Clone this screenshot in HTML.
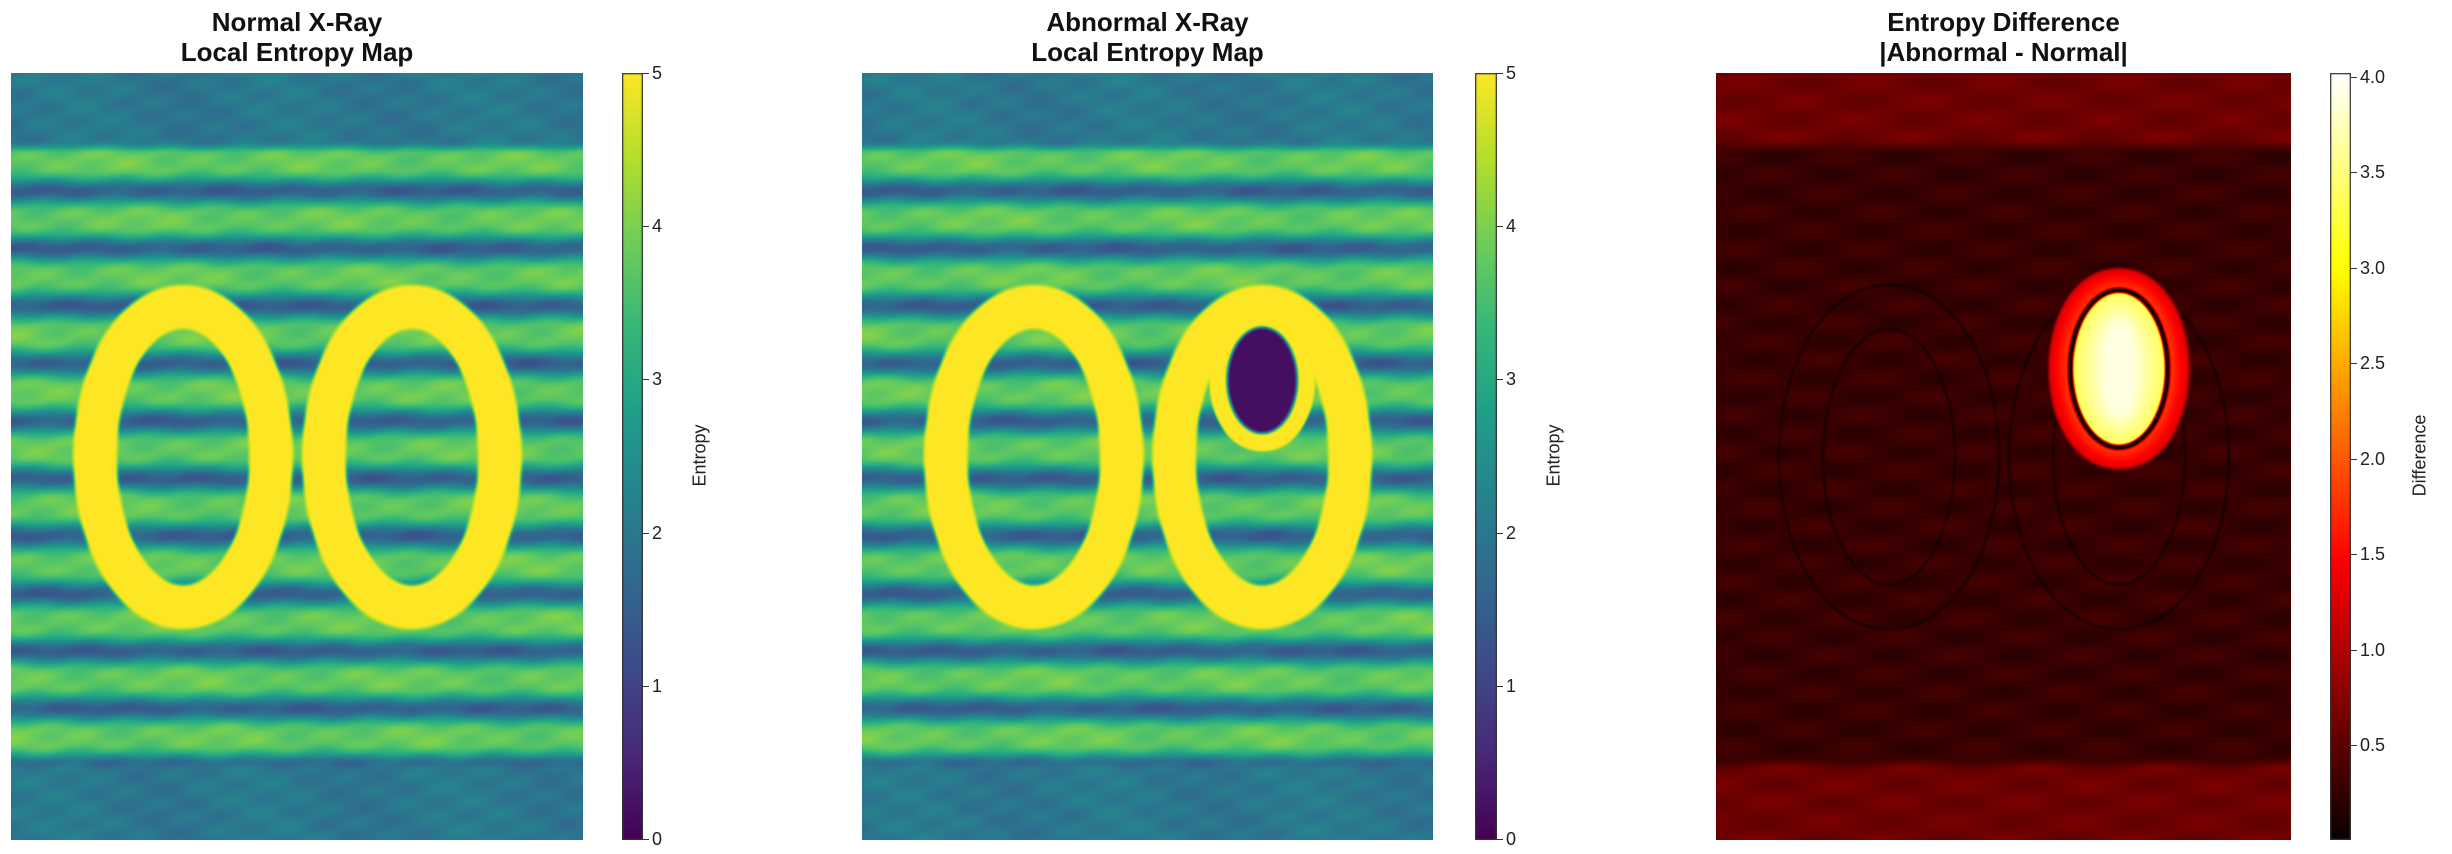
<!DOCTYPE html>
<html><head><meta charset="utf-8"><style>
body{margin:0;background:#fff;width:2452px;height:854px;overflow:hidden;position:relative;font-family:"Liberation Sans","DejaVu Sans",sans-serif;}
.title{position:absolute;text-align:center;font-weight:bold;font-size:26px;line-height:30px;color:#111;}
canvas{position:absolute;}
.tick{position:absolute;height:1px;width:6px;background:#333;}
.tl{position:absolute;font-size:18px;color:#222;line-height:18px;}
.cbl{position:absolute;font-size:18px;color:#222;transform:rotate(-90deg);transform-origin:center;white-space:nowrap;}
</style></head><body>
<div class="title" style="left:11px;top:7px;width:572px">Normal X-Ray<br>Local Entropy Map</div>
<div class="title" style="left:862px;top:7px;width:571px">Abnormal X-Ray<br>Local Entropy Map</div>
<div class="title" style="left:1716px;top:7px;width:575px">Entropy Difference<br>|Abnormal - Normal|</div>
<canvas id="p1" width="572" height="767" style="left:11px;top:73px"></canvas>
<canvas id="p2" width="571" height="767" style="left:862px;top:73px"></canvas>
<canvas id="p3" width="575" height="767" style="left:1716px;top:73px"></canvas>
<canvas id="c1" width="21" height="767" style="left:622px;top:73px"></canvas>
<canvas id="c2" width="22" height="767" style="left:1475px;top:73px"></canvas>
<canvas id="c3" width="21" height="767" style="left:2330px;top:73px"></canvas>
<div class="cbl" style="left:700px;top:445px">Entropy</div>
<div class="cbl" style="left:1554px;top:445px">Entropy</div>
<div class="cbl" style="left:2420px;top:445px">Difference</div>
<script>
const stripeBounds=[0.094,0.90];
const stripeWave=[0.1155,0.075];
const levels=[2.0,3.8,1.5];
const ellipses=[[0.30,0.50,88,150],[0.70,0.50,88,150]];
const ringHalf=22;
const lesion=[0.70,0.40,35,53];
const diffLevels=[0.28,0.6];
const diffBlob=[0.70,0.385,48,78];
const entropyTicks=[0,1,2,3,4,5];
const entropyRange=[0,5];
const diffTicks=[0.5,1.0,1.5,2.0,2.5,3.0,3.5,4.0];
const diffRange=[0.01,4.02];

const VIR=[[68,1,84],[72,40,120],[62,74,137],[49,104,142],[38,130,142],[31,158,137],[53,183,121],[109,205,89],[180,222,44],[253,231,37]];
function viridis(t){t=Math.max(0,Math.min(1,t));const p=t*(VIR.length-1),i=Math.min(VIR.length-2,Math.floor(p)),f=p-i;return VIR[i].map((c,k)=>c+(VIR[i+1][k]-c)*f);}
function hot(t){t=Math.max(0,Math.min(1,t));return[(0.04+0.96*Math.min(1,t/0.365))*255,Math.max(0,Math.min(1,(t-0.365)/0.381))*255,Math.max(0,Math.min(1,(t-0.746)/0.254))*255];}
function ss(e0,e1,x){let t=Math.max(0,Math.min(1,(x-e0)/(e1-e0)));return t*t*(3-2*t);}
function edist(x,y,cx,cy,a,b){const dx=x-cx,dy=y-cy,X=dx/a,Y=dy/b,r=Math.sqrt(X*X+Y*Y)+1e-6;return (r-1)*r/(Math.sqrt((X/a)*(X/a)+(Y/b)*(Y/b))+1e-9);}
function stripeMask(ny){return ss(stripeBounds[0]-0.01,stripeBounds[0]+0.01,ny)*(1-ss(stripeBounds[1]-0.01,stripeBounds[1]+0.01,ny));}
function baseVal(x,y,w,h){const ny=y/h,s=stripeMask(ny);
 const tex=0.18*Math.sin(x*0.09+y*0.04)*Math.sin(y*0.21+x*0.013)+0.1*Math.sin(x*0.031-y*0.017);
 const c=Math.cos(2*Math.PI*(ny-stripeWave[0])/stripeWave[1]);const q=(1-c)/2;
 const sv=levels[1]-(levels[1]-levels[2])*q*q;
 return levels[0]+tex+s*(sv-levels[0]);}
function ringT(x,y,w,h){let t=0;for(const e of ellipses){const d=edist(x,y,e[0]*w,e[1]*h,e[2],e[3]);t=Math.max(t,1-ss(ringHalf-3,ringHalf+3,Math.abs(d)));}return t;}
function normalV(x,y,w,h){const v=baseVal(x,y,w,h),t=ringT(x,y,w,h);return v+(5-v)*t;}
function abnormalV(x,y,w,h){let v=normalV(x,y,w,h);const d=edist(x,y,lesion[0]*w,lesion[1]*h,lesion[2],lesion[3]);
 const ring=1-ss(16,20,d);v=v+(5-v)*ring;const hole=1-ss(-3,3,d);return v+(0.2-v)*hole;}
function diffV(x,y,w,h){const ny=y/h,s=stripeMask(ny);
 let v=diffLevels[1]-(diffLevels[1]-diffLevels[0])*s+0.08*Math.sin(x*0.05+y*0.02)*Math.sin(y*0.17);
 for(const e of ellipses){const d=edist(x,y,e[0]*w,e[1]*h,e[2],e[3]);const q=(Math.abs(d)-ringHalf)/1.5;v*=1-0.6*Math.exp(-(q*q));}
 const db=edist(x,y,diffBlob[0]*w,diffBlob[1]*h,diffBlob[2],diffBlob[3]);
 if(db<26){const halo=1.9-0.03*db;v=Math.max(v,halo*ss(0,5,db)*(1-ss(20,26,db)));}
 const inner=3.9-0.5*ss(-40,0,db);
 v=v+(inner-v)*(1-ss(-4,0,db));const q2=(db-1)/1.8;v*=1-0.9*Math.exp(-(q2*q2));
 return v;}
function paint(id,fn,cmap,rng){const c=document.getElementById(id),g=c.getContext('2d'),w=c.width,h=c.height,im=g.createImageData(w,h);
 for(let y=0;y<h;y++)for(let x=0;x<w;x++){const col=cmap((fn(x,y,w,h)-rng[0])/(rng[1]-rng[0]));const i=(y*w+x)*4;im.data[i]=col[0];im.data[i+1]=col[1];im.data[i+2]=col[2];im.data[i+3]=255;}
 g.putImageData(im,0,0);}
paint('p1',normalV,viridis,entropyRange);
paint('p2',abnormalV,viridis,entropyRange);
paint('p3',diffV,hot,diffRange);
function colorbar(id,cmap,rng,ticks,nameBase,dec){const c=document.getElementById(id),g=c.getContext('2d'),w=c.width,h=c.height;
 for(let y=0;y<h;y++){const col=cmap(1-y/(h-1));g.fillStyle='rgb('+col.map(v=>Math.round(v)).join(',')+')';g.fillRect(0,y,w,1);}
 g.strokeStyle='#333';g.lineWidth=1.5;g.strokeRect(0.5,0.5,w-1,h-1);
 const L=parseFloat(c.style.left),T=parseFloat(c.style.top);
 ticks.forEach(t=>{const y=T+(rng[1]-t)/(rng[1]-rng[0])*(h-1);
  const tk=document.createElement('div');tk.className='tick';
  
  
  tk.style.left=(L+w)+'px';tk.style.top=y+'px';document.body.appendChild(tk);
  const lb=document.createElement('div');lb.className='tl';
  
  
  lb.textContent=dec?t.toFixed(1):String(t);lb.style.left=(L+w+9)+'px';lb.style.top=(y-9)+'px';document.body.appendChild(lb);});}
colorbar('c1',viridis,entropyRange,entropyTicks,'entropy-colorbar-1',false);
colorbar('c2',viridis,entropyRange,entropyTicks,'entropy-colorbar-2',false);
colorbar('c3',hot,diffRange,diffTicks,'difference-colorbar',true);
document.querySelectorAll('.cbl').forEach(e=>{e.style.marginLeft=(-e.offsetWidth/2)+'px';});
</script>
</body></html>
